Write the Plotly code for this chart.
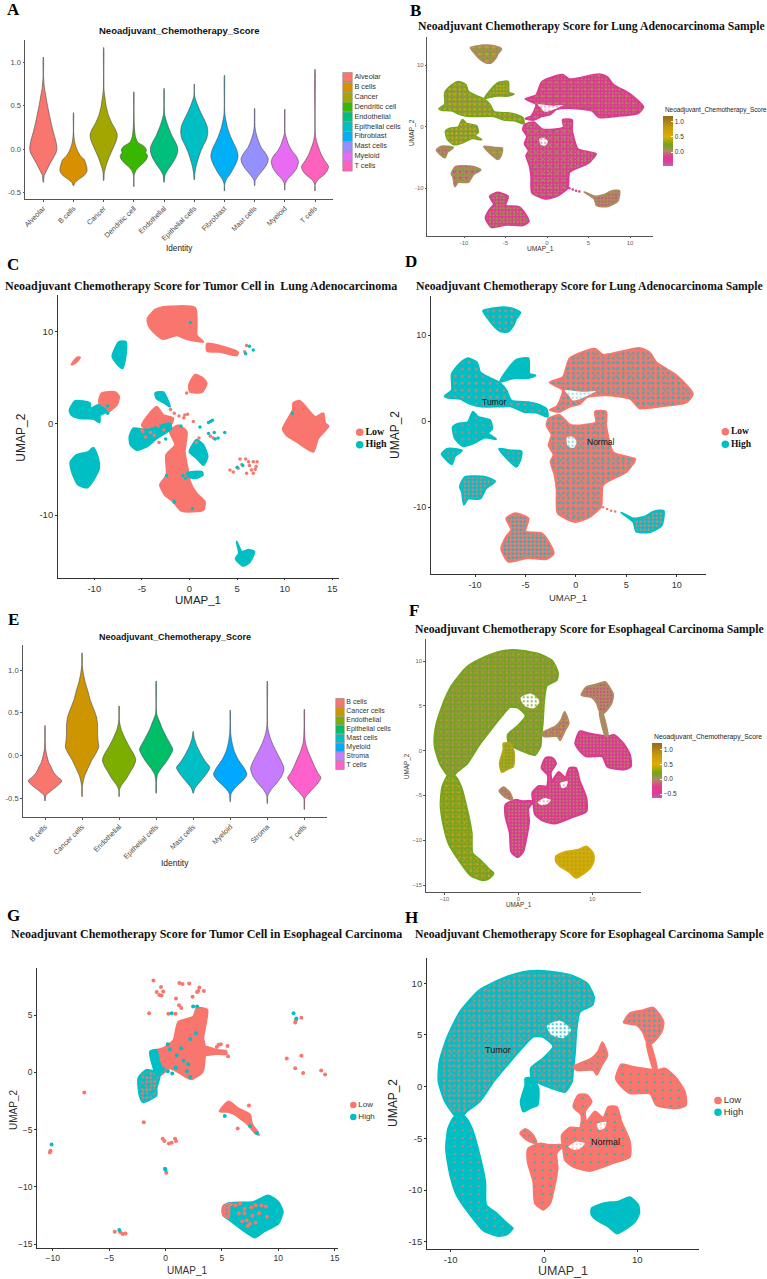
import plotly.graph_objects as go

W, H = 767, 1279
SANS = "Liberation Sans"
SERIF = "Liberation Serif"
SALMON = "#F8766D"
TEAL = "#00BFC4"
MAG = "#DB3A90"
TAN = "#AD8A62"
GREEN = "#74A31E"
GOLD = "#D8AA08"

# ---------- violin data: (score, half width in category units) ----------
LUNG_TYPES = ["Alveolar", "B cells", "Cancer", "Dendritic cell", "Endothelial", "Epithelial cells",
              "Fibroblast", "Mast cells", "Myeloid", "T cells"]
LUNG_COLORS = ["#F8766D", "#D89000", "#A3A500", "#39B600", "#00BF7D", "#00BFC4", "#00B0F6", "#9590FF", "#E76BF3", "#FF62BC"]
ALVEOLAR_Y = [-.38, -.30, -.25, -.18, -.10, -.05, 0, .05, .1, .2, .3, .4, .5, .6, .7, .8, .85, 1.06]
ALVEOLAR_W = [.005, .03, .1, .2, .33, .41, .45, .44, .41, .33, .26, .2, .14, .09, .04, .015, .008, .004]
BCELL_Y = [-.42, -.38, -.34, -.30, -.26, -.23, -.18, -.12, -.08, -.03, .03, .08, .15, .2, .42]
BCELL_W = [.005, .06, .2, .36, .44, .45, .42, .36, .24, .15, .08, .04, .015, .005, .003]
CANCER_Y = [-.36, -.27, -.2, -.1, -.02, .05, .1, .16, .22, .3, .4, .5, .6, .68, .85, 1.17]
CANCER_W = [.005, .02, .07, .17, .27, .36, .42, .45, .4, .27, .15, .08, .04, .012, .006, .003]
DENDRITIC_Y = [-.43, -.3, -.25, -.2, -.15, -.1, -.07, -.04, -.01, .03, .08, .15, .28, .46, .66]
DENDRITIC_W = [.004, .01, .06, .18, .34, .44, .45, .39, .42, .35, .13, .05, .015, .006, .003]
ENDO_Y = [-.38, -.3, -.25, -.18, -.1, -.03, .02, .08, .15, .25, .32, .4, .5, .7]
ENDO_W = [.005, .03, .1, .24, .38, .45, .45, .38, .27, .15, .08, .02, .008, .003]
EPI_Y = [-.35, -.28, -.2, -.1, -.02, .05, .12, .2, .27, .35, .42, .5, .6, .68, .75]
EPI_W = [.005, .02, .06, .14, .22, .31, .41, .45, .42, .32, .22, .12, .02, .006, .003]
FIBRO_Y = [-.48, -.4, -.35, -.28, -.2, -.12, -.07, 0, .08, .15, .25, .33, .4, .5, .85]
FIBRO_W = [.004, .01, .06, .2, .33, .43, .45, .4, .29, .2, .1, .05, .015, .006, .003]
MAST_Y = [-.42, -.36, -.3, -.22, -.16, -.11, -.05, .02, .1, .18, .26, .47]
MAST_W = [.004, .02, .13, .32, .42, .45, .37, .22, .12, .05, .012, .003]
MYELOID_Y = [-.47, -.4, -.35, -.28, -.22, -.14, -.08, -.02, .05, .12, .18, .46]
MYELOID_W = [.004, .01, .08, .27, .39, .45, .38, .24, .13, .06, .012, .003]
TCELL_Y = [-.48, -.4, -.35, -.3, -.25, -.2, -.13, -.07, 0, .08, .17, .35, .92]
TCELL_W = [.004, .012, .1, .28, .4, .45, .32, .22, .14, .06, .012, .005, .003]
LUNG_VIOLINS = [(ALVEOLAR_Y, ALVEOLAR_W), (BCELL_Y, BCELL_W), (CANCER_Y, CANCER_W), (DENDRITIC_Y, DENDRITIC_W),
                (ENDO_Y, ENDO_W), (EPI_Y, EPI_W), (FIBRO_Y, FIBRO_W), (MAST_Y, MAST_W), (MYELOID_Y, MYELOID_W), (TCELL_Y, TCELL_W)]

ESO_TYPES = ["B cells", "Cancer cells", "Endothelial", "Epithelial cells", "Mast cells", "Myeloid", "Stroma", "T cells"]
ESO_COLORS = ["#F8766D", "#CD9600", "#7CAE00", "#00BE67", "#00BFC4", "#00A9FF", "#C77CFF", "#FF61CC"]
E_B_Y = [-.53, -.47, -.42, -.36, -.31, -.29, -.25, -.2, -.13, -.08, 0, .08, .17, .35]
E_B_W = [.004, .02, .14, .32, .44, .45, .34, .24, .16, .1, .05, .015, .006, .003]
E_CANCER_Y = [-.48, -.36, -.25, -.15, -.05, .03, .1, .18, .25, .35, .45, .55, .65, .75, .85, .95, 1.05, 1.2]
E_CANCER_W = [.004, .01, .06, .16, .27, .38, .45, .43, .42, .42, .39, .31, .22, .16, .09, .04, .01, .003]
E_ENDO_Y = [-.48, -.4, -.35, -.28, -.2, -.12, -.05, .02, .1, .2, .3, .4, .58]
E_ENDO_W = [.004, .01, .06, .18, .29, .4, .45, .39, .28, .16, .06, .01, .003]
E_EPI_Y = [-.44, -.3, -.22, -.15, -.07, 0, .07, .13, .2, .3, .4, .48, .56, .87]
E_EPI_W = [.004, .01, .04, .14, .28, .38, .45, .39, .3, .18, .09, .02, .006, .003]
E_MAST_Y = [-.44, -.38, -.3, -.22, -.14, -.07, 0, .1, .2, .28]
E_MAST_W = [.004, .05, .2, .35, .45, .33, .23, .11, .03, .004]
E_MYE_Y = [-.54, -.45, -.4, -.33, -.28, -.22, -.15, -.05, .05, .15, .25, .38, .53]
E_MYE_W = [.004, .02, .09, .25, .37, .45, .38, .22, .11, .05, .015, .006, .003]
E_STROMA_Y = [-.56, -.47, -.4, -.32, -.24, -.15, -.05, .05, .15, .25, .34, .55, .87]
E_STROMA_W = [.004, .015, .1, .26, .39, .45, .36, .24, .13, .05, .012, .005, .003]
E_T_Y = [-.63, -.5, -.45, -.38, -.32, -.26, -.2, -.12, -.05, .05, .15, .22, .34, .54]
E_T_W = [.004, .015, .1, .25, .37, .45, .36, .27, .2, .1, .03, .015, .006, .003]
ESO_VIOLINS = [(E_B_Y, E_B_W), (E_CANCER_Y, E_CANCER_W), (E_ENDO_Y, E_ENDO_W), (E_EPI_Y, E_EPI_W),
               (E_MAST_Y, E_MAST_W), (E_MYE_Y, E_MYE_W), (E_STROMA_Y, E_STROMA_W), (E_T_Y, E_T_W)]

# ---------- lung sample UMAP cluster outlines ----------
L_TOP = [(-9.2,12.8),(-7.5,13.2),(-6.4,13.1),(-5.5,12.6),(-5.9,11.9),(-6.2,11.1),(-6.7,10.4),(-7.4,10.4),(-8,10.9),(-8.7,11.9)]
L_UPLEFT = [(-13,2.9),(-12.3,3.6),(-12.3,5.5),(-11.5,6.7),(-10.7,7.3),(-9.8,6.8),(-9.5,5.7),(-8.5,5),(-7.5,4.4),(-6.9,3.6),(-6.4,2.4),(-4.7,2.2),(-3.9,2),(-2.9,1.4),(-2.8,.5),(-3.9,1),(-5.2,1.1),(-6.4,1.7),(-7.5,1.7),(-9.4,1.7),(-10.5,2),(-11.5,2.6),(-12.7,2.7)]
L_UPMID = [(-7.5,4.6),(-6.7,6.1),(-5.9,7.1),(-4.7,7.3),(-4.6,5.5),(-4,5.3),(-4.7,5),(-5.9,5),(-6.5,4.9)]
L_MIDLEFT = [(-12.2,-.7),(-11.7,-.3),(-10.7,-.1),(-10.2,1.1),(-9.7,.5),(-8.5,.1),(-8.3,-.9),(-8.7,-1.4),(-7.9,-2.1),(-9,-1.9),(-10.2,-2.6),(-11.2,-2.9),(-12,-2)]
L_TINY = [(-13.3,-3.8),(-12.7,-3.2),(-11.3,-3.4),(-12,-4.1),(-12.3,-5),(-13,-4.3)]
L_SMALL = [(-7.6,-3.2),(-6.5,-3.4),(-5.4,-3.5),(-5.5,-4.5),(-5.9,-5.3),(-6.7,-4.5)]
L_LOWLEFT = [(-11.5,-7.6),(-11,-6.5),(-8.9,-6.5),(-8,-7),(-8.9,-7.8),(-9.5,-9),(-10.7,-9),(-11.1,-9.7),(-11.3,-8.2)]
L_BOTTOM = [(-6.9,-11.3),(-6,-10.7),(-4.7,-11.3),(-5,-12.8),(-3.4,-13),(-2.7,-14),(-2.2,-15.4),(-2.9,-16),(-4.9,-15.9),(-6.7,-16.3),(-7.4,-14.8),(-6.9,-13.4),(-6.4,-12.6)]
L_BIG = [(-2.6,4.5),(-1.3,5.1),(-.6,7.3),(1.9,8.4),(2.7,7.7),(6.3,8.5),(7.3,8),(8,6.8),(10,5.3),(11.6,3.2),(11,2.2),(8.3,1.7),(6.3,1.5),(5.4,2.6),(3,3),(1.1,2.8),(.4,2),(-.6,1.7),(-1.6,1.1),(-2.6,1.3),(-1.9,1.7),(-1.3,3.6)]
L_BIG_HOLE = [(-1.1,3.6),(.7,3.4),(2,3.5),(.7,2.7),(-.3,2.4),(-.7,3)]
L_CENTER = [(-2.7,.3),(-1.6,.7),(-.6,-.4),(.4,-.5),(2,-.1),(1.9,1.1),(3,1.1),(3,-.5),(3.7,-3.6),(5,-4.1),(5.9,-4.4),(5,-5.9),(2.7,-7.4),(2.5,-9.9),(1.4,-11.1),(-.1,-11.7),(-1.8,-10.7),(-1.9,-8),(-2.1,-6.3),(-2.5,-4.7),(-2.2,-3.9),(-2.7,-2.8),(-2.4,-1.6),(-2.9,-.5)]
L_CENTER_HOLE = [(-.9,-1.9),(-.3,-1.8),(.1,-2.4),(-.2,-3.1),(-.8,-2.9)]
L_RIGHT = [(4.5,-10.6),(5.7,-11.3),(6.8,-11.1),(7.7,-10.5),(8.7,-10.4),(8.5,-12.1),(7.3,-12.9),(6,-12.8),(5.7,-11.7)]
L_TAIL_X = [2.7, 3.1, 3.5, 3.9]
L_TAIL_Y = [-10.0, -10.2, -10.4, -10.5]

# ---------- esophageal sample UMAP cluster outlines ----------
E_CRESCENT = [(-9.5,-2.8),(-10.6,-1.45),(-11.3,.5),(-11.2,2.4),(-10.4,4.7),(-9,7.25),(-6.9,9.35),(-4.35,10.5),(-2.2,11.1),(-.07,11.2),(2.8,10.8),(4.6,10),(5.35,8.7),(5.2,7.9),(3.85,7.25),(3.5,5.65),(3.3,3.1),(3.1,1.45),(3,.5),(2.25,-.5),(1.35,-.3),(-.4,.3),(-1.3,.8),(-1.4,1.8),(-.07,2.75),(1,3.9),(-.07,4.8),(-1.15,4.85),(-2.2,3.9),(-3.65,2.4),(-5.4,.5),(-6.9,-1.45),(-8.3,-2.4),(-8.8,-2.9)]
E_CRESCENT_HOLE = [(.3,5.9),(1.7,6.4),(2.9,5.5),(2.1,4.7),(.8,5)]
E_STUB = [(-2,.15),(-2.5,-1.45),(-2.2,-2.4),(-1.3,-2),(-.7,-1.8),(-.6,-.15),(-1.15,.8),(-2,.8)]
E_BODY = [(-9.5,-2.8),(-8.5,-2.9),(-7.75,-4),(-7,-6.3),(-6.3,-9.2),(-6.2,-11.45),(-5.1,-12.25),(-4,-13.2),(-3.35,-13.7),(-4,-14.3),(-4.9,-14.45),(-6.5,-13.9),(-7.9,-12.4),(-9.35,-10.5),(-10.05,-8.55),(-10.5,-6),(-10.25,-4)]
E_BLOB = [(5.1,-11.8),(6.35,-11.3),(8,-11.1),(9.2,-10.7),(10.1,-11.45),(10.2,-12.25),(9.75,-13.05),(8.5,-13.9),(7.8,-14.2),(6.9,-13.55),(5.65,-12.9),(5.1,-12.4)]
E_NORMAL_LEFT = [(-1.75,-7.25),(-1.7,-6),(-.4,-5.5),(.65,-5.65),(2.1,-5.65),(1.35,-6.45),(1.45,-7.9),(1,-10.15),(.65,-11.3),(-.07,-11.9),(-.95,-11.3),(-1.15,-9.2)]
E_NUB = [(-2.55,-4.5),(-2,-4.1),(-1.15,-4.7),(-.8,-5.5),(-1.85,-5.15)]
E_NORMAL = [(1.9,-4.7),(2.8,-3.95),(3.85,-4),(4,-2.75),(3.15,-1.95),(3.7,-.8),(4.6,-.8),(5.1,-1.45),(4.4,-2.4),(4.55,-3.4),(5.45,-2.4),(6.35,-3),(6.9,-1.95),(7.8,-1.95),(8.3,-3.4),(9.2,-5.3),(9.2,-6.8),(7.4,-7.4),(4.9,-8.15),(3.15,-7.75),(2.25,-7.1),(2.05,-6)]
E_NORMAL_HOLE_A = [(2.6,-5.8),(3.5,-5.3),(4.4,-5.5),(3.85,-6),(3.15,-6.1)]
E_NORMAL_HOLE_B = [(5.65,-3.6),(6.7,-3.4),(6.5,-4),(5.9,-4.2)]
E_RIGHT = [(7.7,.8),(8.3,2.15),(9.6,1.9),(12.05,1.6),(12.95,1.75),(14.2,.8),(15.1,-.5),(15.2,-1.8),(14.2,-2.1),(12.05,-1.8),(11.35,-.65),(9.2,-.65),(8.15,.15)]
E_UPRIGHT = [(8.55,6.2),(9.2,7.1),(10.65,7.4),(11.7,7.65),(12.8,6.3),(12.6,5.3),(11.55,4.2),(11,4.4),(10.6,5.3),(9.95,5.95)]
E_STEM = [(11,4.3),(11.3,4.3),(12.1,1.6),(11.8,1.6)]
E_MID = [(3.15,1.95),(3.85,2.25),(5.1,2.75),(5.8,3.4),(6.25,4.3),(6.8,3.05),(6.2,2.1),(5.65,1.15),(5.3,1.6),(3.5,1.6)]

# ---------- panel C tumour-cell UMAP ----------
C_TOP = [(-4.4,11.45),(-3.6,12.4),(-2.75,12.7),(.6,12.6),(.75,10.7),(.75,9.6),(1.45,8.9),(-.3,9.2),(-1.35,9.6),(-2.75,9.2),(-3.8,10),(-4.3,10.7)]
C_STREAK = [(1.85,8.7),(3.55,8.35),(5.1,7.75),(4.95,7.4),(3.2,7.8),(1.85,7.9)]
C_TINY = [(-12.4,6.4),(-11.8,7.2),(-11.5,7.2),(-12,6.6)]
C_NUB = [(-.05,4.2),(.6,5.3),(1.45,4.9),(1.8,4.35),(1.3,3.4),(.05,3.45)]
C_CLAW = [(-9.5,2.55),(-9.2,3.3),(-7.8,3.4),(-7.4,2.9),(-7.65,2),(-8.7,1.2),(-9.4,1.8)]
C_RIGHT = [(9.8,-.6),(10.85,1.45),(10.9,2.2),(11.6,2.45),(13.2,.7),(14.05,1.1),(14.25,0),(14.6,-.3),(13.5,-1.65),(13,-3.1),(11.25,-2),(10.2,-1.3)]
C_CENTER = [(-3.1,-6.7),(-2.4,-5.65),(-2.45,-3.45),(-1.5,-2.35),(-2.05,-.9),(-1.2,-.2),(-.3,-.9),(-.5,-3.1),(-.1,-5.45),(.05,-6.35),(.75,-7.65),(1.6,-8.55),(1.45,-9.45),(-.85,-9.55),(-1.7,-8.55),(-2.6,-7.8)]
C_ARM = [(-5,-.2),(-3.45,1.8),(-2.75,.9),(-1.7,.55),(-2,-.2),(-4.15,-.9)]
C_PILLAR = [(-8.1,7.3),(-7.4,8.9),(-6.7,8.9),(-6.7,7.45),(-7.05,6),(-7.65,6.55)]
C_WING = [(-12.6,1.45),(-12,2.45),(-10.45,2.2),(-10.4,1.6),(-9.6,2),(-8.7,1.3),(-9.4,.9),(-9.45,.1),(-10.1,.5),(-11.5,.55),(-12.4,.9)]
C_LARGE = [(-12.5,-4.2),(-11.85,-3.45),(-10.6,-3.1),(-10.1,-2.65),(-9.6,-3.8),(-9.5,-4.9),(-10.1,-6.2),(-10.75,-7),(-11.7,-6.7),(-12.3,-5.45)]
C_FOOT = [(4.95,-12.9),(5.5,-14),(6.2,-13.8),(6.8,-14),(6.35,-15.1),(5.65,-15.55),(4.85,-14.75),(5.2,-14.2)]
C_LEFTMID = [(-6.3,-1.45),(-5.9,-.55),(-4.5,-.7),(-2.05,0),(-1.9,-.55),(-3.45,-1.65),(-4.5,-2.55),(-5.55,-2.9),(-6.2,-2.35)]
C_ARC = [(-3.6,3.3),(-2.75,3.4),(-2.05,1.8),(-2.6,2.2),(-3.45,2.7)]
C_MID = [(0,-3.1),(.75,-1.8),(1.45,-2.35),(1.9,-3.65),(1.45,-4.55),(.75,-3.8)]
C_LOW = [(-.3,-5.45),(.2,-5.3),(1.3,-5.3),(1.4,-5.65),(.55,-6),(-.1,-5.8)]
C_LOW_X = [5.3, 5.9, 5.5, 6.2, 6.7, 7.1, 7.0, 6.5, 6.0, 4.25, 4.6, 6.7, 5.1, 6.9, 6.3, -2.0, -1.6, -1.1, -.6, -.2, .4, .7, -1.8, -1.4, -.9, 2.2, 2.5, -.3, 6.0, 5.8, -.4, -4.9, -5.0, -4.1, -3.7, -3.2, -4.6, -3.3, -2.7, -.5, 1.0]
C_LOW_Y = [-3.9, -3.9, -4.5, -4.2, -4.2, -4.2, -4.7, -5.1, -5.45, -5.1, -5.3, -5.45, -4.9, -5.0, -4.6, 1.5, 1.1, .8, .6, 1.0, .2, -2.1, -.9, -.4, -.6, -1.4, -1.6, 3.3, 8.5, 7.8, -1.3, -.9, -.7, -1.0, -1.3, -2.1, -1.5, -.3, -.7, .9, -1.6]
C_HIGH_X = [.1, 2.0, 2.2, 2.4, 1.1, 2.6, 3.7, 2.0, 2.7, 3.0, .9, -.4, -.7, -2.4, -1.6, 5.6, 5.0, 5.9, 6.3, 6.7, 10.8, .3, -1.6, -8.6, -8.6, -2.5, -.9]
C_HIGH_Y = [11.0, .1, .2, .35, -.4, -1.0, -1.0, -1.1, -1.7, -1.6, -3.3, -6.0, -5.7, -5.7, -8.6, -4.6, -4.8, 7.6, 8.4, 8.0, 1.1, -9.3, -8.5, 1.9, 1.1, -1.7, -.3]

# ---------- panel G tumour-cell UMAP ----------
G_CORE = [(-.93,.93),(-1.37,1.8),(-.2,2.1),(.7,2.8),(1.14,4.4),(2.47,4.85),(2.76,5.6),(3.7,5.45),(3.35,3),(3.5,2.25),(3.5,1.5),(3.3,.05),(2.3,-.6),(1.3,-.1),(.4,.35),(-.5,-.25)]
G_SPUR = [(3.4,2.25),(4.6,1.95),(5.4,1.85),(5.4,1.6),(4.4,1.6),(3.4,1.5)]
G_LOWER = [(-2.4,-.5),(-1.7,.2),(-.5,-.1),(-.8,-1.4),(-.8,-2),(-2,-2.6),(-2.3,-2)]
G_CAP = [(-1.37,1.8),(-.8,1.95),(-.55,.93),(-.2,.05),(-.8,-.25),(-1.15,.65)]
G_STREAK = [(4.8,-3.4),(5.6,-2.55),(6.45,-3.15),(7.5,-3.7),(7.65,-4.45),(8.3,-5.45),(7.95,-5.3),(7.2,-4.45),(6,-3.6),(5.5,-3.45)]
G_BLOB = [(5.1,-11.7),(5.7,-11.4),(7.8,-11.3),(9.1,-10.75),(10,-11.3),(10.4,-12.15),(10,-13.2),(8.7,-13.9),(7.95,-14.4),(7.05,-13.9),(5.7,-12.9),(5.1,-12.45)]
G_PATCH = [(5.1,-11.7),(5.6,-11.5),(5.6,-12.7),(5.1,-12.4)]
G_LOW_X = [-1.07, -.78, -.4, -.2, -.55, -.35, 1.23, 1.5, 2.1, .93, 1.2, -1.45, .25, .9, 1.4, 2.4, 2.8, 3, 3.4, 2.9, -7.2, -1.93, -.25, -.1, .3, .55, .85, .93, -10.2, -10.25, .07, -4.5, -4, -3.8, -3.55, 12.05, 11.55, 11.5, 10.75, 12.05, 11.5, 12.2, 13.8, 14.15, 4.7, 4.9, 5.5, 5.55, 4.55, 6.4, 7.4, 5.8, 6.2, 6.6, 7.0, 7.6, 8.0, 8.5, 7.0, 7.2, 7.7, 8.3, 8.9, 6.5, 7.3, 8.0, 9.0, 7.5, 6.8]
G_LOW_Y = [8, 7, 7.45, 7.05, 6.75, 6.7, 7.8, 7.7, 7.75, 6.45, 5.85, 5.15, 5.1, 5.1, 5.6, 6.6, 7, 7.4, 7.1, 7.1, -1.75, -4.35, -5.8, -6, -6.2, -6.15, -5.8, -6, -6.85, -7, -8.75, -13.9, -13.95, -14.1, -14.05, 4.75, 4.5, 4.35, 1.2, 1.45, .35, -.05, .15, -.2, 2.4, 2.45, 2.3, 1.4, 2.2, -4.9, -2.9, -11.5, -11.6, -11.45, -11.9, -11.8, -11.6, -11.6, -12.3, -12.9, -12.5, -12.3, -11.7, -12.3, -13.4, -13.1, -12.6, -13.2, -13.0]
G_HIGH_X = [-10.1, 11.35, 11.6, 0, -.05, -4.1, .55, 2.45, 2.8, 5.25, 7.5, 8.1, .2, .4, 1.0, 1.4, 2.2, 2.7, 2.0, 1.6, .9, 2.2, 1.9, -.2, .2, .6, -1.9, -2.0, -1.5, -1.3, -1.8, -1.0, -1.6, -1.1, -2.2]
G_HIGH_Y = [-6.3, 5.15, 4.7, -8.5, -8.4, -13.75, 5.15, 5.75, 5.75, -3.8, -4.7, -5.3, 2.45, 2.0, 1.5, 2.1, 2.9, 3.4, .7, 1.0, .4, -.4, .1, .3, .1, -.1, -.7, -1.2, -1.1, -1.8, -2.0, -.4, -.2, -1.6, -.6]

SCORE_STOPS = [(-.46, "#B267B5"), (-.3, "#DE3C9A"), (-.15, "#E23C90"), (.03, "#AF8A62"), (.25, "#70A51B"), (.5, "#E0AD00"), (.8, "#C79A10"), (1.19, "#96691F")]
SCORE_STOPS_F = [(-.63, "#B267B5"), (-.5, "#DE3C9A"), (-.25, "#E23C90"), (.0, "#AF8A62"), (.2, "#70A51B"), (.5, "#E0AD00"), (.8, "#C79A10"), (1.21, "#96691F")]

traces, annotations, layout = [], [], {}
naxis = 0


def px(x):
    return x / W


def py(y):
    return 1 - y / H


def new_axes(left, right, bottom, top, xr, yr, xaxis=None, yaxis=None):
    global naxis
    naxis += 1
    sfx = "" if naxis == 1 else str(naxis)
    xa = dict(domain=[px(left), px(right)], range=xr, anchor="y" + sfx, fixedrange=True, showgrid=False, zeroline=False)
    ya = dict(domain=[py(bottom), py(top)], range=yr, anchor="x" + sfx, fixedrange=True, showgrid=False, zeroline=False)
    xa.update(xaxis or dict(visible=False))
    ya.update(yaxis or dict(visible=False))
    layout["xaxis" + sfx] = xa
    layout["yaxis" + sfx] = ya
    return "x" + sfx, "y" + sfx


def axis_style(size, color, tickvals, ticktext=None, angle=None, width=1.0, linecolor="#555"):
    d = dict(showline=True, linecolor=linecolor, linewidth=width, ticks="outside", ticklen=1.5, tickwidth=.7, tickcolor=linecolor,
             tickvals=tickvals, tickfont=dict(family=SANS, size=size, color=color))
    if ticktext is not None:
        d["ticktext"] = ticktext
    if angle is not None:
        d["tickangle"] = angle
    return d


def rng(a, b, pa, pb, lo, hi):
    s = (b - a) / (pb - pa)
    return [a + (lo - pa) * s, a + (hi - pa) * s]


def note(text, x, y, size, family=SANS, bold=False, color="#111", angle=0, anchor="center"):
    t = "<b>%s</b>" % text if bold else text
    annotations.append(dict(text=t, x=px(x), y=py(y), xref="paper", yref="paper", showarrow=False, xanchor=anchor, yanchor="middle",
                            textangle=angle, font=dict(family=family, size=size, color=color)))


def blob(ax, poly, bg, fg=None, size=4, sol=.22, fg2=None, size2=6, sol2=.12):
    xs = [p[0] for p in poly] + [poly[0][0]]
    ys = [p[1] for p in poly] + [poly[0][1]]
    base = dict(x=xs, y=ys, xaxis=ax[0], yaxis=ax[1], mode="lines", fill="toself", hoverinfo="skip", showlegend=False)
    shape = dict(shape="spline", smoothing=.6)
    edge = 0 if bg == "white" else 2.0
    if fg is None:
        traces.append(go.Scatter(line=dict(color=bg, width=edge, **shape), fillcolor=bg, **base))
        return
    traces.append(go.Scatter(line=dict(color=bg, width=edge, **shape), fillpattern=dict(shape=".", bgcolor=bg, fgcolor=fg, size=size, solidity=sol, fgopacity=1), **base))
    if fg2:
        traces.append(go.Scatter(line=dict(color="rgba(0,0,0,0)", width=0, **shape), fillcolor="rgba(0,0,0,0)",
                                 fillpattern=dict(shape=".", bgcolor="rgba(0,0,0,0)", fgcolor=fg2, size=size2, solidity=sol2, fgopacity=1), **base))


def dots(ax, xs, ys, color, size):
    traces.append(go.Scatter(x=xs, y=ys, xaxis=ax[0], yaxis=ax[1], mode="markers", marker=dict(color=color, size=size, line=dict(width=0)), hoverinfo="skip", showlegend=False))


def violins(ax, profiles, colors, names):
    for i, ((ys, ws), c) in enumerate(zip(profiles, colors)):
        xs = [i - w for w in ws] + [i + w for w in reversed(ws)] + [i - ws[0]]
        yy = list(ys) + list(reversed(ys)) + [ys[0]]
        traces.append(go.Scatter(x=xs, y=yy, xaxis=ax[0], yaxis=ax[1], mode="lines", name=names[i], fill="toself", fillcolor=c,
                                 line=dict(color="#4a4a4a", width=.6, shape="spline", smoothing=.7), hoverinfo="skip", showlegend=False))


def key_legend(left, right, top, bottom, xc, names, colors, size, symbol, fsize, family=SANS, bold=False, color="#333", line=None):
    ax = new_axes(left, right, bottom, top, [left, right], [len(names) - .5, -.5])
    labels = ["<b>%s</b>" % n if bold else n for n in names]
    traces.append(go.Scatter(x=[xc] * len(names), y=list(range(len(names))), xaxis=ax[0], yaxis=ax[1], mode="markers+text", text=labels, textposition="middle right",
                             textfont=dict(family=family, size=fsize, color=color), cliponaxis=False, hoverinfo="skip", showlegend=False,
                             marker=dict(color=colors, size=size, symbol=symbol, line=line or dict(width=0))))


def colorbar_ax(ax, stops, cmin, cmax, left, top, length, thick, ticks, anchor_pt):
    scale = [[(v - cmin) / (cmax - cmin), c] for v, c in stops]
    traces.append(go.Scatter(x=[anchor_pt[0]] * 2, y=[anchor_pt[1]] * 2, xaxis=ax[0], yaxis=ax[1], mode="markers", hoverinfo="skip", showlegend=False,
                             marker=dict(color=[cmin, cmax], cmin=cmin, cmax=cmax, colorscale=scale, opacity=0, size=1, showscale=True,
                                         colorbar=dict(x=px(left), xanchor="left", y=py(top), yanchor="top", lenmode="pixels", len=length, thicknessmode="pixels", thickness=thick,
                                                       xpad=0, ypad=0, outlinewidth=0, tickvals=ticks, ticktext=["%.1f" % t if t >= 0 else "\u2212%.1f" % -t for t in ticks],
                                                       ticks="inside", ticklen=2, tickcolor="white", tickfont=dict(family=SANS, size=6.5, color="#333")))))


# ---------- A ----------
a = new_axes(25, 333, 199, 40, rng(0, 9, 43.3, 315, 25, 333), rng(-.5, 1, 192.7, 62.3, 199, 40),
             axis_style(7.2, "#4a4a4a", list(range(10)), LUNG_TYPES, -45), axis_style(7.6, "#4a4a4a", [-.5, 0, .5, 1], ["-0.5", "0.0", "0.5", "1.0"]))
violins(a, LUNG_VIOLINS, LUNG_COLORS, LUNG_TYPES)
note("Neoadjuvant_Chemotherapy_Score", 179, 30.7, 9.5, bold=True)
note("Identity", 179, 248, 8.2, color="#222")
key_legend(340, 400, 72.3, 171.3, 347.5, LUNG_TYPES, LUNG_COLORS, 9.5, "square", 7.3, line=dict(color="#888", width=.6))

# ---------- B ----------
b = new_axes(427.3, 653, 235.7, 36.7, rng(-10, 10, 464, 630, 427.3, 653), rng(-10, 10, 188.3, 65, 235.7, 36.7),
             axis_style(6, "#666", [-10, -5, 0, 5, 10], ["-10", "-5", "0", "5", "10"]), axis_style(6, "#666", [-10, 0, 10], ["-10", "0", "10"]))
blob(b, L_BIG, MAG, TAN, 3.4, .22, "#A89A40", 7, .08)
blob(b, L_CENTER, MAG, TAN, 3.4, .26, "#96A050", 7, .08)
blob(b, L_BIG_HOLE, "white", MAG, 4, .1)
blob(b, L_CENTER_HOLE, "white", MAG, 4, .14)
blob(b, L_BOTTOM, MAG, TAN, 3.4, .3, GREEN, 6, .14)
blob(b, L_RIGHT, TAN, MAG, 3.4, .24, GREEN, 7, .08)
blob(b, L_TOP, TAN, GREEN, 3.4, .32, GOLD, 7, .1)
blob(b, L_UPLEFT, GREEN, TAN, 3.4, .28, GOLD, 5, .18)
blob(b, L_UPMID, GREEN, GOLD, 3.4, .32, TAN, 6, .14)
blob(b, L_MIDLEFT, GREEN, TAN, 3.4, .26, GOLD, 4.5, .22)
blob(b, L_TINY, TAN, MAG, 3.4, .24, GREEN, 6, .14)
blob(b, L_SMALL, TAN, GREEN, 3.4, .32, GOLD, 7, .08)
blob(b, L_LOWLEFT, TAN, GREEN, 3.4, .28, MAG, 6, .12)
dots(b, L_TAIL_X, L_TAIL_Y, MAG, 2.5)
note("Neoadjuvant Chemotherapy Score for Lung Adenocarcinoma Sample", 591, 27, 11.7, SERIF, True)
note("UMAP_1", 540.7, 248.5, 6.6, color="#333")
note("UMAP_2", 412, 133, 6.6, color="#333", angle=-90)
note("Neoadjuvant_Chemotherapy_Score", 663, 110, 6.4, color="#222", anchor="left")
colorbar_ax(b, SCORE_STOPS, -.46, 1.19, 663, 116, 50, 10, [0, .5, 1], L_BIG[0])

# ---------- C ----------
c = new_axes(57.7, 339, 577.7, 295, rng(-10, 15, 94.3, 332.3, 57.7, 339), rng(-10, 10, 515, 331.7, 577.7, 295),
             axis_style(9.5, "#333", [-10, -5, 0, 5, 10, 15], ["-10", "-5", "0", "5", "10", "15"], width=1.2, linecolor="#333"),
             axis_style(9.5, "#333", [-10, 0, 10], ["-10", "0", "10"], width=1.2, linecolor="#333"))
for p in (C_TOP, C_STREAK, C_TINY, C_NUB, C_CLAW, C_RIGHT, C_CENTER, C_ARM):
    blob(c, p, SALMON)
for p in (C_PILLAR, C_WING, C_LARGE, C_FOOT, C_LEFTMID, C_ARC, C_MID, C_LOW):
    blob(c, p, TEAL)
dots(c, C_LOW_X, C_LOW_Y, SALMON, 3.5)
dots(c, C_HIGH_X, C_HIGH_Y, TEAL, 3.5)
note("Neoadjuvant Chemotherapy Score for Tumor Cell in  Lung Adenocarcinoma", 201, 285.7, 12, SERIF, True)
note("UMAP_1", 198, 600, 11.5, color="#222")
note("UMAP_2", 20.7, 438, 12, color="#222", angle=-90)
key_legend(350, 398, 426, 451, 359.7, ["Low", "High"], [SALMON, TEAL], 7.5, "circle", 10, SERIF, True, "#111")

# ---------- D ----------
d = new_axes(430.7, 705.7, 574.3, 295.7, rng(-10, 10, 475, 676.7, 430.7, 705.7), rng(-10, 10, 507.3, 335, 574.3, 295.7),
             axis_style(9, "#333", [-10, -5, 0, 5, 10], ["-10", "-5", "0", "5", "10"], width=1.2, linecolor="#333"),
             axis_style(9, "#333", [-10, 0, 10], ["-10", "0", "10"], width=1.2, linecolor="#333"))
blob(d, L_BIG, SALMON, TEAL, 5, .16, TEAL, 7, .06)
blob(d, L_CENTER, SALMON, TEAL, 5, .16, TEAL, 7, .06)
blob(d, L_BIG_HOLE, "white", TEAL, 4, .1)
blob(d, L_CENTER_HOLE, "white", TEAL, 4, .14)
blob(d, L_BOTTOM, SALMON, TEAL, 4, .36)
blob(d, L_RIGHT, TEAL, SALMON, 4, .3)
blob(d, L_TOP, TEAL, SALMON, 6, .12)
blob(d, L_UPLEFT, TEAL, SALMON, 7, .1)
blob(d, L_UPMID, TEAL)
blob(d, L_MIDLEFT, TEAL, SALMON, 7, .08)
blob(d, L_TINY, TEAL, SALMON, 5, .12)
blob(d, L_SMALL, TEAL, SALMON, 5, .12)
blob(d, L_LOWLEFT, TEAL, SALMON, 4, .28)
dots(d, L_TAIL_X, L_TAIL_Y, SALMON, 2.5)
note("Neoadjuvant Chemotherapy Score for Lung Adenocarcinoma Sample", 589, 286, 11.7, SERIF, True)
note("UMAP_1", 568, 597, 9.5, color="#333")
note("UMAP_2", 395, 435, 12, color="#222", angle=-90)
note("Tumor", 494.3, 401.5, 8.5, color="#111")
note("Normal", 601, 442, 8.5, color="#111")
key_legend(716, 766, 425.5, 450.5, 725.3, ["Low", "High"], [SALMON, TEAL], 7.5, "circle", 9.5, SERIF, True, "#111")

# ---------- E ----------
e = new_axes(22.7, 326.7, 817.3, 645, rng(0, 7, 45, 304.3, 22.7, 326.7), rng(-.5, 1, 798.3, 670, 817.3, 645),
             axis_style(7.2, "#4a4a4a", list(range(8)), ESO_TYPES, -45), axis_style(7.6, "#4a4a4a", [-.5, 0, .5, 1], ["-0.5", "0.0", "0.5", "1.0"]))
violins(e, ESO_VIOLINS, ESO_COLORS, ESO_TYPES)
note("Neoadjuvant_Chemotherapy_Score", 175, 637, 9, bold=True)
note("Identity", 175, 863, 8.5, color="#222")
key_legend(333, 400, 698.2, 769.8, 340, ESO_TYPES, ESO_COLORS, 8.5, "square", 7, line=dict(color="#888", width=.6))

# ---------- F ----------
f = new_axes(425.7, 640.7, 892, 639.3, rng(-10, 10, 444.3, 592.3, 425.7, 640.7), rng(-15, 10, 885, 661, 892, 639.3),
             axis_style(5.8, "#666", [-10, 0, 10], ["\u221210", "0", "10"]), axis_style(5.8, "#666", [-15, -10, -5, 0, 5, 10], ["\u221215", "\u221210", "\u22125", "0", "5", "10"]))
blob(f, E_CRESCENT, GREEN, TAN, 3.6, .28, GOLD, 6, .06)
blob(f, E_CRESCENT_HOLE, "white", GREEN, 4, .2)
blob(f, E_STUB, "#B0A814", GREEN, 3.4, .3, TAN, 6, .1)
blob(f, E_BODY, GREEN, "#B09C28", 3.6, .28, GOLD, 6, .08)
blob(f, E_BLOB, GOLD, GREEN, 4, .14)
blob(f, E_NORMAL_LEFT, MAG, TAN, 3.4, .28)
blob(f, E_NUB, TAN, MAG, 3.4, .22)
blob(f, E_NORMAL, MAG, TAN, 3.4, .26)
blob(f, E_NORMAL_HOLE_A, "white", MAG, 4, .1)
blob(f, E_NORMAL_HOLE_B, "white", MAG, 4, .1)
blob(f, E_RIGHT, MAG, TAN, 3.4, .26)
blob(f, E_UPRIGHT, TAN, MAG, 3.4, .24)
blob(f, E_STEM, TAN)
blob(f, E_MID, TAN, MAG, 3.4, .22, GOLD, 6, .08)
note("Neoadjuvant Chemotherapy Score for Esophageal Carcinoma Sample", 589, 629, 11.7, SERIF, True)
note("UMAP_1", 519, 905, 6.3, color="#333")
note("UMAP_2", 407, 766, 6.3, color="#333", angle=-90)
note("Neoadjuvant_Chemotherapy_Score", 651.7, 736.7, 6.8, color="#222", anchor="left")
colorbar_ax(f, SCORE_STOPS_F, -.63, 1.21, 651.7, 743, 55, 10.3, [-.5, 0, .5, 1], E_BLOB[0])

# ---------- G ----------
g = new_axes(36.7, 338.3, 1248.3, 967.7, rng(-10, 15, 52.7, 334.7, 36.7, 338.3), rng(-15, 5, 1244.3, 1015, 1248.3, 967.7),
             axis_style(8.5, "#333", [-10, -5, 0, 5, 10, 15], ["\u221210", "\u22125", "0", "5", "10", "15"], width=1.2, linecolor="#333"),
             axis_style(8.5, "#333", [-15, -10, -5, 0, 5], ["\u221215", "\u221210", "\u22125", "0", "5"], width=1.2, linecolor="#333"))
blob(g, G_CORE, SALMON)
blob(g, G_SPUR, SALMON)
blob(g, G_LOWER, TEAL, SALMON, 4, .42)
blob(g, G_CAP, TEAL)
blob(g, G_STREAK, SALMON)
blob(g, G_BLOB, TEAL)
blob(g, G_PATCH, SALMON, TEAL, 4, .18)
dots(g, G_LOW_X, G_LOW_Y, SALMON, 4)
dots(g, G_HIGH_X, G_HIGH_Y, TEAL, 4)
note("Neoadjuvant Chemotherapy Score for Tumor Cell in Esophageal Carcinoma", 207, 934, 12, SERIF, True)
note("UMAP_1", 187, 1270, 10, color="#333")
note("UMAP_2", 13, 1110, 10, color="#333", angle=-90)
key_legend(345, 395, 1099, 1123, 353.3, ["Low", "High"], [SALMON, TEAL], 6.5, "circle", 8, color="#333")

# ---------- H ----------
h = new_axes(426.7, 699, 1249.3, 958.3, rng(-10, 10, 450.7, 637.3, 426.7, 699), rng(-15, 10, 1241.7, 983.3, 1249.3, 958.3),
             axis_style(9.5, "#333", [-10, 0, 10], ["-10", "0", "10"], width=1.2, linecolor="#333"),
             axis_style(9.5, "#333", [-15, -10, -5, 0, 5, 10], ["-15", "-10", "-5", "0", "5", "10"], width=1.2, linecolor="#333"))
blob(h, E_CRESCENT, TEAL, SALMON, 5, .16, SALMON, 7, .06)
blob(h, E_CRESCENT_HOLE, "white", TEAL, 4, .2)
blob(h, E_STUB, TEAL)
blob(h, E_BODY, TEAL, SALMON, 8, .05)
blob(h, E_BLOB, TEAL)
blob(h, E_NORMAL_LEFT, SALMON, TEAL, 8, .05)
blob(h, E_NUB, SALMON, TEAL, 5, .12)
blob(h, E_NORMAL, SALMON, TEAL, 8, .05)
blob(h, E_NORMAL_HOLE_A, "white", SALMON, 4, .1)
blob(h, E_NORMAL_HOLE_B, "white", SALMON, 4, .1)
blob(h, E_RIGHT, SALMON, TEAL, 8, .05)
blob(h, E_UPRIGHT, SALMON, TEAL, 5, .16)
blob(h, E_STEM, SALMON)
blob(h, E_MID, SALMON, TEAL, 6, .08)
note("Neoadjuvant Chemotherapy Score for Esophageal Carcinoma Sample", 589, 934, 11.7, SERIF, True)
note("UMAP_1", 563, 1271, 12.5, color="#333")
note("UMAP_2", 393, 1103, 12, color="#222", angle=-90)
note("Tumor", 497.7, 1049.7, 9, color="#111")
note("Normal", 605.7, 1142, 9, color="#111")
key_legend(710, 765, 1094.5, 1118, 718, ["Low", "High"], [SALMON, TEAL], 7.5, "circle", 9.5, color="#333")

# ---------- panel letters ----------
for letter, x, y in [("A", 5, 10), ("B", 408, 11), ("C", 5, 264), ("D", 403, 262), ("E", 6, 620), ("F", 407, 611), ("G", 5, 915), ("H", 403, 917)]:
    note(letter, x, y, 17, SERIF, True, "#000", anchor="left")

layout.update(width=W, height=H, margin=dict(l=0, r=0, t=0, b=0, autoexpand=False), paper_bgcolor="white", plot_bgcolor="white",
              showlegend=False, annotations=annotations)
fig = go.Figure(data=traces, layout=layout)
fig.write_html("out.html", post_script="document.body.style.margin='0';", config=dict(displayModeBar=False))
